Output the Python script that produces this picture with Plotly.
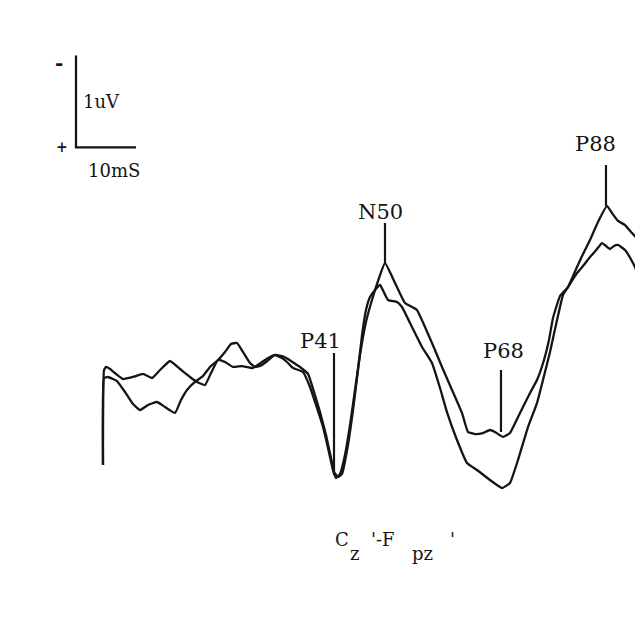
import plotly.graph_objects as go

# Latency (ms) and amplitude (uV, positive plotted downward) of the two superimposed traces
trace_a_ms = [2.5, 2.67, 3.0, 3.67, 4.67, 5.83, 7.5, 9.17, 10.67, 12.0, 13.67, 15.33, 17.0, 18.17, 19.5,
              20.5, 21.67, 22.83, 24.17, 25.67, 27.5, 29.0, 30.33, 31.17, 32.33, 33.17, 34.17, 35.83,
              37.0, 38.0, 39.17, 40.0, 40.83, 41.33, 42.0, 42.83, 43.67, 44.5, 45.33, 46.33, 47.33,
              48.33, 49.5, 51.17, 52.83, 54.0, 54.83, 56.17, 57.83, 59.0, 60.67, 62.33, 63.33, 64.5,
              65.83, 67.0, 67.83, 69.17, 70.33, 72.0, 73.67, 74.83, 76.0, 76.83, 77.5, 78.67, 80.0,
              81.5, 82.5, 83.67, 85.0, 86.5, 87.33, 88.33, 89.5, 90.67, 92.5]
trace_a_uv = [1.033, 0.0, -0.033, -0.011, 0.043, 0.098, 0.076, 0.043, 0.087, 0.0, -0.098, -0.011, 0.076,
              0.130, 0.163, 0.033, -0.109, -0.087, -0.033, -0.043, -0.022, -0.087, -0.141, -0.163,
              -0.130, -0.087, -0.022, 0.022, 0.185, 0.380, 0.620, 0.848, 1.087, 1.174, 1.130, 0.924,
              0.598, 0.217, -0.163, -0.522, -0.761, -0.967, -1.163, -0.946, -0.728, -0.685, -0.652,
              -0.467, -0.217, -0.033, 0.217, 0.467, 0.674, 0.696, 0.685, 0.652, 0.674, 0.728, 0.685,
              0.467, 0.250, 0.109, -0.109, -0.326, -0.565, -0.804, -0.902, -1.120, -1.261, -1.413,
              -1.609, -1.783, -1.707, -1.620, -1.576, -1.489, -1.359]

trace_b_ms = [2.5, 2.67, 3.33, 4.83, 6.17, 7.5, 8.67, 10.0, 11.5, 12.83, 14.5, 15.5, 16.5, 17.83, 19.17,
              20.33, 21.67, 22.83, 23.83, 24.83, 25.83, 27.0, 27.83, 28.67, 29.67, 31.17, 32.33, 33.33,
              34.33, 35.33, 36.67, 37.67, 38.67, 39.67, 40.5, 41.0, 41.67, 42.33, 43.33, 44.17, 45.0,
              45.67, 46.33, 47.0, 47.83, 48.67, 50.0, 51.5, 52.33, 54.0, 55.67, 57.33, 58.67, 59.83,
              61.5, 63.17, 64.83, 67.0, 69.0, 70.33, 71.67, 73.33, 74.83, 75.83, 77.0, 78.17, 79.17,
              80.0, 81.5, 82.5, 83.67, 84.83, 85.67, 86.33, 87.0, 87.67, 88.33, 89.5, 90.83, 92.5]
trace_b_uv = [1.033, 0.087, 0.076, 0.120, 0.239, 0.370, 0.435, 0.380, 0.348, 0.402, 0.467, 0.326, 0.217,
              0.130, 0.065, -0.033, -0.109, -0.196, -0.283, -0.293, -0.196, -0.076, -0.033, -0.043,
              -0.087, -0.163, -0.152, -0.120, -0.076, -0.033, 0.043, 0.239, 0.457, 0.707, 0.957, 1.109,
              1.163, 1.130, 0.815, 0.435, 0.0, -0.380, -0.652, -0.793, -0.870, -0.924, -0.761, -0.739,
              -0.685, -0.467, -0.250, -0.076, 0.196, 0.457, 0.761, 1.011, 1.087, 1.196, 1.283, 1.228,
              0.978, 0.620, 0.359, 0.109, -0.196, -0.543, -0.815, -0.902, -1.054, -1.130, -1.228,
              -1.315, -1.380, -1.348, -1.315, -1.348, -1.359, -1.304, -1.163, -0.924]

# Peak labels
peak_names = ["P41", "N50", "P68", "P88"]
peak_ms = [41.0, 49.5, 68.83, 86.33]
peak_tick_from = [-0.185, -1.598, 0.0, -2.228]
peak_tick_to = [1.141, -1.163, 0.674, -1.783]
peak_label_ms = [38.67, 48.67, 69.17, 84.5]
peak_label_uv = [-0.32, -1.72, -0.21, -2.46]

# Calibration bar: 10 ms x 1 uV
cal_ms = [-2.0, 8.0]
cal_uv = [-2.42, -3.42]

# Derivation caption "Cz'-Fpz'" (typed with full-size lowered subscripts)
caption_parts = ["C", "z", "'-F", "pz", "'"]
caption_ms = [42.4, 44.4, 49.2, 55.7, 60.8]
caption_is_sub = [False, True, False, True, False]

INK = "#151515"
FONT = "DejaVu Serif"

fig = go.Figure()
for xs, ys in [(trace_a_ms, trace_a_uv), (trace_b_ms, trace_b_uv)]:
    fig.add_trace(go.Scatter(x=xs, y=ys, mode="lines",
                             line=dict(color=INK, width=2.3, shape="spline", smoothing=0.35),
                             showlegend=False, hoverinfo="skip"))

# calibration bar
fig.add_trace(go.Scatter(x=[cal_ms[0], cal_ms[0], cal_ms[1]],
                         y=[cal_uv[1], cal_uv[0], cal_uv[0]],
                         mode="lines", line=dict(color=INK, width=2.3),
                         showlegend=False, hoverinfo="skip"))

shapes = []
annotations = []
for name, t, a, b, lx, ly in zip(peak_names, peak_ms, peak_tick_from, peak_tick_to,
                                  peak_label_ms, peak_label_uv):
    shapes.append(dict(type="line", xref="x", yref="y", x0=t, x1=t, y0=a, y1=b,
                       line=dict(color=INK, width=2.2)))
    annotations.append(dict(x=lx, y=ly, xref="x", yref="y", text=name, showarrow=False,
                            font=dict(family=FONT, size=21, color=INK)))

for part, cx, sub in zip(caption_parts, caption_ms, caption_is_sub):
    annotations.append(dict(x=cx, y=1.99 if sub else 1.84, text=part, showarrow=False,
                            font=dict(family=FONT, size=18, color=INK)))

annotations += [
    dict(x=cal_ms[0] - 2.9, y=cal_uv[1] + 0.08, text="<b>-</b>", showarrow=False,
         font=dict(family=FONT, size=20, color=INK)),
    dict(x=cal_ms[0] - 2.4, y=cal_uv[0], text="<b>+</b>", showarrow=False,
         font=dict(family=FONT, size=14, color=INK)),
    dict(x=cal_ms[0] + 4.2, y=(cal_uv[0] + cal_uv[1]) / 2, text="1uV", showarrow=False,
         font=dict(family=FONT, size=18, color=INK)),
    dict(x=(cal_ms[0] + cal_ms[1]) / 2 + 1.3, y=cal_uv[0] + 0.25, text="10mS", showarrow=False,
         font=dict(family=FONT, size=18, color=INK)),
]

# Page body has an 8px margin, so the axis ranges start 8px into the scanned frame
fig.update_layout(
    width=643, height=624,
    margin=dict(l=0, r=0, t=0, b=0),
    paper_bgcolor="white", plot_bgcolor="white",
    shapes=shapes, annotations=annotations,
    xaxis=dict(range=[-13.333, 93.833], visible=False, fixedrange=True),
    yaxis=dict(range=[2.848, -3.935], visible=False, fixedrange=True),
)

fig.write_html("out.html")
